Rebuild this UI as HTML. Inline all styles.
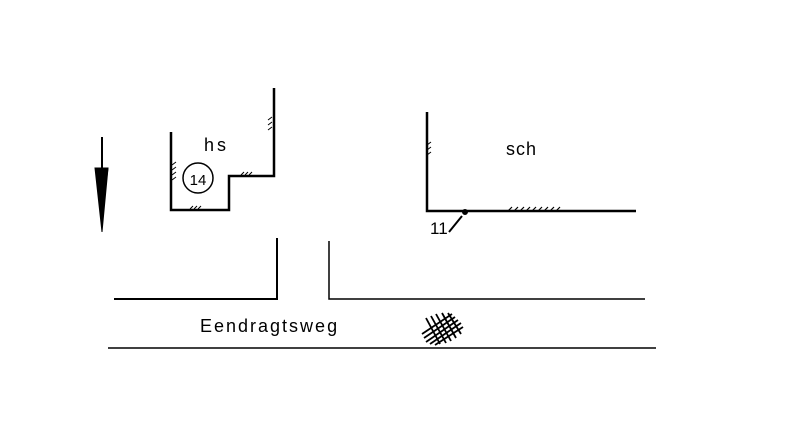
<!DOCTYPE html>
<html><head><style>
html,body{margin:0;padding:0;background:#fff;width:800px;height:421px;overflow:hidden}
svg{display:block}
text{font-family:"Liberation Sans",sans-serif;fill:#000}
</style></head><body>
<svg width="800" height="421" viewBox="0 0 800 421" xmlns="http://www.w3.org/2000/svg">
<g stroke="#000" fill="none">
<line x1="102" y1="137" x2="102" y2="170" stroke-width="2"/>
<polygon points="95,168 108,168 102,232" fill="#000" stroke-width="1"/>
<line x1="108" y1="168" x2="104" y2="200" stroke-width="1"/>
<polyline points="171,132 171,210 229,210 229,176 274,176 274,88" stroke-width="2.5"/>
<path d="M172,165 l4,-3 M172,170 l4,-3 M172,175 l4,-3 M172,180 l4,-3" stroke-width="1"/>
<path d="M268,120 l4,-3 M268,125 l4,-3 M268,130 l4,-3" stroke-width="1"/>
<path d="M190,209 l3,-3 M194,209 l3,-3 M198,209 l3,-3" stroke-width="1"/>
<path d="M241,175 l3,-3 M245,175 l3,-3 M249,175 l3,-3" stroke-width="1"/>
<circle cx="198" cy="178" r="15" stroke-width="1.5"/>
<polyline points="427,112 427,211 636,211" stroke-width="2.5"/>
<path d="M427,145 l4,-3 M427,150 l4,-3 M427,155 l4,-3" stroke-width="1"/>
<path d="M508,211 l4,-4 M514,211 l4,-4 M520,211 l4,-4 M526,211 l4,-4 M532,211 l4,-4 M538,211 l4,-4 M544,211 l4,-4 M550,211 l4,-4 M556,211 l4,-4" stroke-width="1.2"/>
<circle cx="465" cy="212" r="2.5" fill="#000"/>
<line x1="449" y1="232" x2="462" y2="216" stroke-width="2"/>
<polyline points="114,299 277,299 277,238" stroke-width="2"/>
<polyline points="329,241 329,299 645,299" stroke-width="1.5"/>
<line x1="108" y1="348" x2="656" y2="348" stroke-width="1.5"/>
<g stroke-width="1.8">
<line x1="422" y1="334" x2="452" y2="314"/><line x1="424" y1="338" x2="455" y2="317"/>
<line x1="426" y1="342" x2="458" y2="320"/><line x1="430" y1="344" x2="461" y2="323"/>
<line x1="435" y1="345" x2="463" y2="327"/>
<line x1="426" y1="318" x2="440" y2="344"/><line x1="431" y1="316" x2="446" y2="343"/>
<line x1="436" y1="314" x2="451" y2="341"/><line x1="442" y1="313" x2="456" y2="338"/>
<line x1="448" y1="313" x2="461" y2="334"/>
</g>
</g>
<text x="204" y="151" font-size="18" letter-spacing="3">hs</text>
<text x="198" y="185" font-size="15" text-anchor="middle">14</text>
<text x="506" y="155" font-size="18" letter-spacing="1">sch</text>
<text x="430" y="234" font-size="17">11</text>
<text x="200" y="332" font-size="18" letter-spacing="2">Eendragtsweg</text>
</svg>
</body></html>
